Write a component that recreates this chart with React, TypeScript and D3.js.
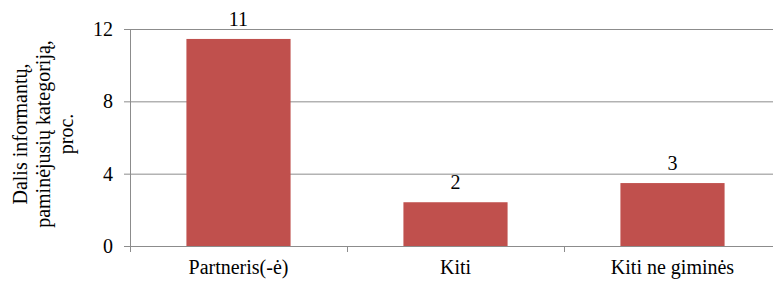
import { useEffect, useRef } from 'react';
import * as d3 from 'd3';

const categories = ['Partneris(-ė)', 'Kiti', 'Kiti ne giminės'];
const values = [11.45, 2.42, 3.48];
const valueLabels = ['11', '2', '3'];
const yTicks = [0, 4, 8, 12];
const yTitle = ['Dalis informantų,', 'paminėjusių kategoriją,', 'proc.'];

const W = 773;
const H = 282;
const FONT = 'Liberation Serif, DejaVu Serif, serif';

export default function App() {
  const ref = useRef<SVGSVGElement | null>(null);

  useEffect(() => {
    const el = ref.current;
    if (!el) return;
    const svg = d3.select(el);
    svg.selectAll('*').remove();

    const left = 130, right = 781, top = 29, bottom = 246;
    const x = d3.scaleBand<string>().domain(categories).range([left, right])
      .paddingInner(0.52).paddingOuter(0.26);
    const y = d3.scaleLinear().domain([0, 12]).range([bottom, top]);

    const txt = (sel: any) => sel.attr('font-family', FONT).attr('font-size', 20).attr('fill', '#000');

    // gridlines
    svg.append('g').selectAll('line').data(yTicks.filter(t => t > 0)).enter().append('line')
      .attr('x1', left).attr('x2', W).attr('y1', d => y(d) + 0.5).attr('y2', d => y(d) + 0.5)
      .style('stroke', '#8c8c8c').style('stroke-width', 1);

    // bars
    svg.append('g').selectAll('rect').data(values).enter().append('rect')
      .attr('x', (d, i) => x(categories[i])!)
      .attr('y', d => y(d))
      .attr('width', x.bandwidth())
      .attr('height', d => y(0) - y(d))
      .style('fill', '#C0504D');

    // value labels
    svg.append('g').call(txt).selectAll('text').data(values).enter().append('text')
      .attr('x', (d, i) => x(categories[i])! + x.bandwidth() / 2)
      .attr('y', d => y(d) - 13)
      .attr('text-anchor', 'middle')
      .text((d, i) => valueLabels[i]);

    // y axis
    svg.append('line').attr('x1', left + 0.5).attr('x2', left + 0.5).attr('y1', top).attr('y2', bottom)
      .style('stroke', '#8c8c8c');
    svg.append('g').selectAll('line').data(yTicks).enter().append('line')
      .attr('x1', left - 6).attr('x2', left).attr('y1', d => y(d) + 0.5).attr('y2', d => y(d) + 0.5)
      .style('stroke', '#8c8c8c');
    svg.append('g').call(txt).selectAll('text').data(yTicks).enter().append('text')
      .attr('x', 113).attr('y', d => y(d)).attr('dy', '0.35em')
      .attr('text-anchor', 'end')
      .text(d => String(d));

    // x axis
    svg.append('line').attr('x1', left).attr('x2', W).attr('y1', bottom + 0.5).attr('y2', bottom + 0.5)
      .style('stroke', '#8c8c8c');
    const step = x.step();
    svg.append('g').selectAll('line').data(d3.range(categories.length + 1)).enter().append('line')
      .attr('x1', i => left + i * step + 0.5).attr('x2', i => left + i * step + 0.5)
      .attr('y1', bottom).attr('y2', bottom + 6)
      .style('stroke', '#8c8c8c');
    svg.append('g').call(txt).selectAll('text').data(categories).enter().append('text')
      .attr('x', d => x(d)! + x.bandwidth() / 2)
      .attr('y', 274)
      .attr('text-anchor', 'middle')
      .text(d => d);

    // y title
    const t = svg.append('text').call(txt)
      .attr('transform', 'translate(0,134) rotate(-90)')
      .attr('text-anchor', 'middle');
    yTitle.forEach((line, i) => {
      t.append('tspan').attr('x', 0).attr('y', 27 + i * 23).text(line);
    });
  }, []);

  return (
    <svg ref={ref} width={W} height={H}
      style={{ position: 'absolute', left: 0, top: 0, background: '#fff', display: 'block' }} />
  );
}
